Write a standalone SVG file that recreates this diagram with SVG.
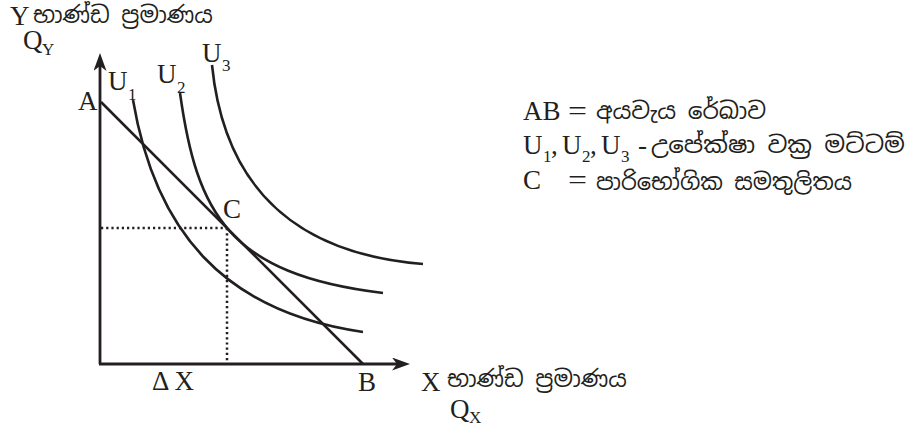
<svg xmlns="http://www.w3.org/2000/svg" width="907" height="427" viewBox="0 0 907 427">
<style>
.ln{fill:none;stroke:#231f20;stroke-width:2.6}
.ax{fill:none;stroke:#231f20;stroke-width:2.8}
.dot{fill:none;stroke:#231f20;stroke-width:2.5;stroke-dasharray:2.2 3}
text{font-family:"Liberation Serif","Times New Roman",serif;fill:#231f20;font-size:27px}
.sub{font-size:17px}
.si{font-family:"Noto Sans Sinhala","Noto Serif Sinhala","Iskoola Pota","Liberation Serif",serif;font-size:23px}
</style>
<defs>
<marker id="arr" markerUnits="userSpaceOnUse" markerWidth="20" markerHeight="14" refX="5" refY="6.5" orient="auto">
<path d="M0,0 L18,6.5 L0,13 L5,6.5 Z" fill="#231f20"/>
</marker>
</defs>
<g id="axes">
<path class="ax" d="M100,364 L100,66" marker-end="url(#arr)"/>
<path class="ax" d="M99,364 L397,364" marker-end="url(#arr)"/>
</g>
<g id="connectors">
<path id="budget-line" class="ln" d="M101,102 L363,364"/>
<path id="U1-curve" class="ln" d="M133,100 C155,230 223,312 363,332"/>
<path id="U2-curve" class="ln" d="M180,93 C196.8,213 228,274.4 383,293"/>
<path id="U3-curve" class="ln" d="M212,65 C223.5,180 288,253.2 423,264"/>
<path id="guide-h" class="dot" d="M101,228 L227,228"/>
<path id="guide-v" class="dot" d="M227,228 L227,363"/>
</g>
<g id="axis-y-label">
<text x="10" y="25">Y</text>
<text class="si" x="33" y="23" textLength="180" lengthAdjust="spacingAndGlyphs">භාණ්ඩ ප්‍රමාණය</text>
<text x="23" y="49" font-size="26">Q</text>
<text class="sub" x="42" y="55">Y</text>
</g>
<g id="axis-x-label">
<text x="421" y="391">X</text>
<text class="si" x="447" y="387" textLength="180" lengthAdjust="spacingAndGlyphs">භාණ්ඩ ප්‍රමාණය</text>
<text x="450" y="418" font-size="25">Q</text>
<text class="sub" x="469" y="423">X</text>
</g>
<g id="point-labels">
<text x="78" y="110">A</text>
<text x="358" y="391" font-size="25">B</text>
<text x="223" y="218">C</text>
<text x="152" y="390" font-size="25">Δ X</text>
</g>
<g id="curve-labels">
<text x="108" y="90">U</text><text class="sub" x="128" y="100">1</text>
<text x="157" y="83">U</text><text class="sub" x="177" y="93">2</text>
<text x="202" y="62">U</text><text class="sub" x="222" y="71">3</text>
</g>
<g id="legend">
<text x="523" y="120">AB</text>
<text x="568" y="120" textLength="19" lengthAdjust="spacingAndGlyphs">=</text>
<text class="si" x="596" y="119" textLength="170" lengthAdjust="spacingAndGlyphs">අයවැය රේඛාව</text>
<text x="523" y="154">U</text><text class="sub" x="543" y="162">1</text><text x="551" y="154">,</text>
<text x="562" y="154">U</text><text class="sub" x="582" y="162">2</text><text x="590" y="154">,</text>
<text x="601" y="154">U</text><text class="sub" x="621" y="162">3</text>
<text x="638" y="154">-</text>
<text class="si" x="651" y="153" textLength="254" lengthAdjust="spacingAndGlyphs">උපේක්ෂා වක්‍ර මට්ටම්</text>
<text x="523" y="189">C</text>
<text x="568" y="189" textLength="19" lengthAdjust="spacingAndGlyphs">=</text>
<text class="si" x="596" y="190" textLength="256" lengthAdjust="spacingAndGlyphs">පාරිභෝගික සමතුලිතය</text>
</g>
</svg>
